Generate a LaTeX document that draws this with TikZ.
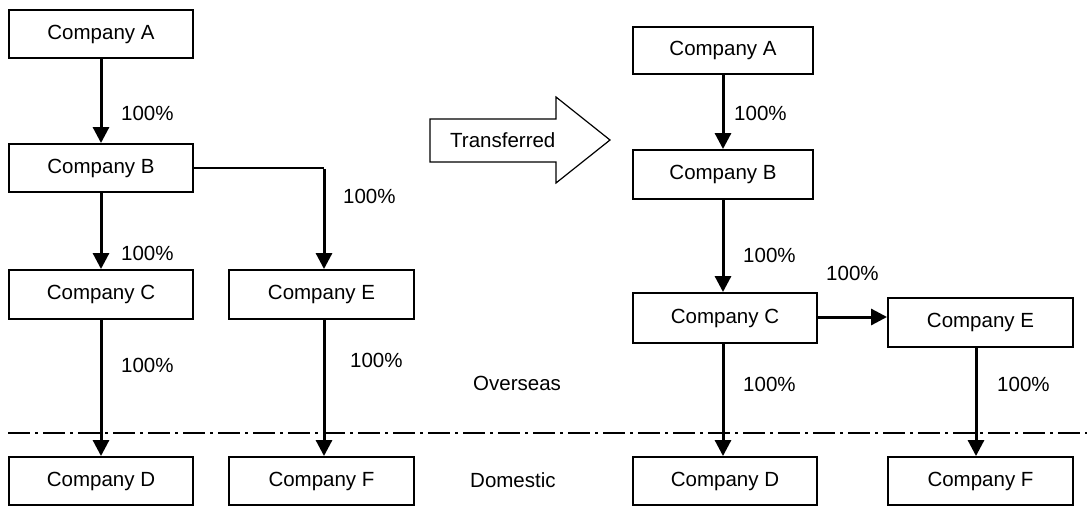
\documentclass[tikz,border=0pt]{standalone}
\usepackage{fontspec}
\setmainfont{Liberation Sans}
\usetikzlibrary{arrows.meta}
\begin{document}
\begin{tikzpicture}[x=1pt,y=-1pt,
  company/.style={draw,line width=1.9pt,minimum width=184pt,minimum height=48pt,inner sep=0pt,font=\fontsize{20.5}{24}\selectfont},
  link/.style={line width=3pt,-{Triangle[width=16pt,length=16pt]}},
  plain/.style={line width=2pt},
  lbl/.style={anchor=west,inner sep=0pt,font=\fontsize{20.5}{24}\selectfont},
  divider/.style={line width=1.5pt,dash pattern=on 22pt off 5pt on 3pt off 5pt}]
\useasboundingbox (0,0) rectangle (1087,506);
% left
\node[company] (LA) at (101,34) {Company A};
\node[company] (LB) at (101,168) {Company B};
\node[company,minimum height=49pt] (LC) at (101,294.5) {Company C};
\node[company,minimum height=49pt,minimum width=185pt] (LE) at (321.5,294.5) {Company E};
\node[company] (LD) at (101,481) {Company D};
\node[company,minimum width=185pt] (LF) at (321.5,481) {Company F};
% right
\node[company,minimum width=180pt,minimum height=47pt] (RA) at (723,50.5) {Company A};
\node[company,minimum width=180pt,minimum height=49pt] (RB) at (723,174.5) {Company B};
\node[company,minimum height=50pt] (RC) at (725,318) {Company C};
\node[company,minimum height=49pt,minimum width=185pt] (RE) at (980.5,322.5) {Company E};
\node[company] (RD) at (725,481) {Company D};
\node[company,minimum width=185pt] (RF) at (980.5,481) {Company F};
% divider
\coordinate (DL) at (8,433);
\coordinate (DR) at (1087,433);
\draw[divider] (DL) -- (DR);
% left connectors
\draw[link] (LA) -- (LB);
\draw[link] (LB) -- (LC);
\coordinate (corner) at ([xshift=2.5pt]LB.east -| LE.north);
\draw[plain] (LB.east) -- (corner);
\draw[link] ([yshift=-1pt]corner) -- (corner |- LE.north);
\draw[link] ([xshift=2.5pt]LE.south) -- ([xshift=2.5pt]LF.north);
\draw[link] (LC) -- (LD);
% right connectors
\draw[link] (RA) -- (RB);
\draw[link] (RB.south) -- (RB.south |- RC.north);
\draw[link] ([yshift=1pt]RC.east) -- ([yshift=1pt]RC.east -| RE.west);
\draw[link] ([xshift=-2pt]RC.south) -- ([xshift=-2pt]RC.south |- RD.north);
\draw[link] ([xshift=-4.5pt]RE.south) -- ([xshift=-4.5pt]RE.south |- RF.north);
% labels
\node[lbl] (l1) at (121,113) {100\%};
\node[lbl] (l2) at (121,253) {100\%};
\node[lbl] (l3) at (343,196) {100\%};
\node[lbl] (l4) at (121,365) {100\%};
\node[lbl] (l5) at (350,360) {100\%};
\node[lbl] (r1) at (734,113) {100\%};
\node[lbl] (r2) at (743,255) {100\%};
\node[lbl] (r3) at (826,273) {100\%};
\node[lbl] (r4) at (743,384) {100\%};
\node[lbl] (r5) at (997,384) {100\%};
\node[lbl] (ov) at (473,383) {Overseas};
\node[lbl] (dom) at (470,480) {Domestic};
% transferred arrow
\draw[line width=1.2pt,fill=white] (430,119) -- (556,119) -- (556,97) -- (610,140) -- (556,183) -- (556,162) -- (430,162) -- cycle;
\node[lbl] (tr) at (450,140) {Transferred};
\end{tikzpicture}
\end{document}
